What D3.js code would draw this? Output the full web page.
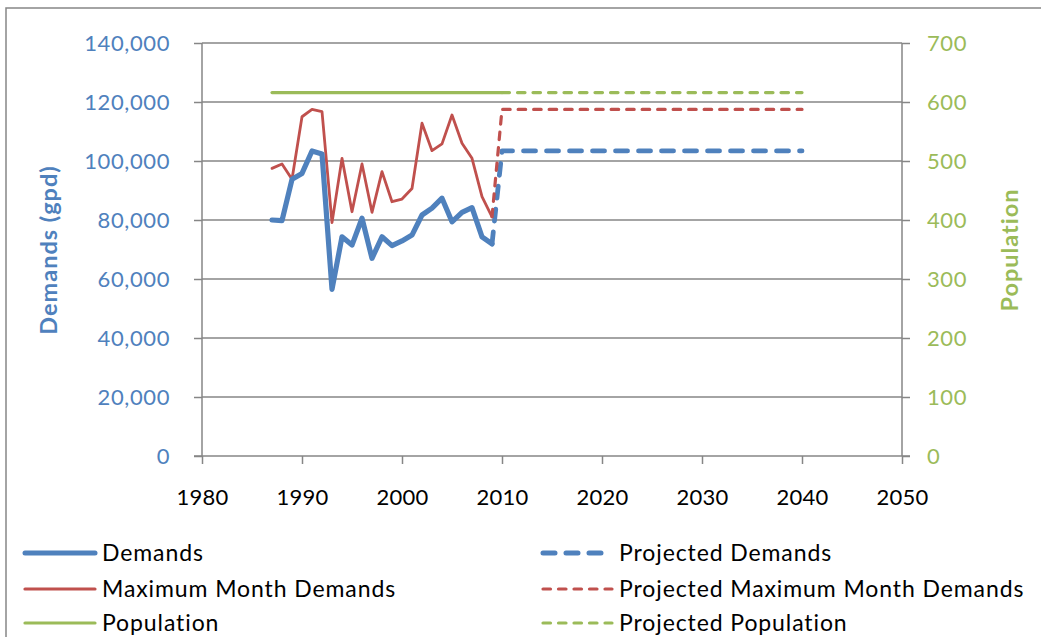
<!DOCTYPE html>
<html><head><meta charset="utf-8">
<script src="https://cdn.jsdelivr.net/npm/d3@7/dist/d3.min.js"></script>
<style>
body{margin:0;background:#fff;}
svg{display:block;font-family:Lato,"Open Sans",sans-serif;}
</style></head>
<body>
<svg id="c" width="1041" height="637"></svg>
<script>
const years = [1987,1988,1989,1990,1991,1992,1993,1994,1995,1996,1997,1998,1999,2000,2001,2002,2003,2004,2005,2006,2007,2008,2009];
const demands = [80000,79800,93800,95800,103400,102400,56500,74300,71500,80600,67000,74300,71300,72900,74900,81700,84000,87400,79400,82600,84200,74300,71900];
const maxMonth = [97500,99000,93800,115000,117500,116700,79100,100900,82800,99000,82600,96400,86200,87100,90700,112800,103500,105800,115600,106000,100900,87900,81100];
const popYears = [1987,2010];
const population = [616,616];
const projYears = [2009,2010,2040];
const projDemands = [71900,103400,103400];
const projMaxMonth = [81100,117500,117500];
const projPopYears = [2010,2040];
const projPopulation = [616,616];
const xTicks = [1980,1990,2000,2010,2020,2030,2040,2050];
const yLeftTicks = [0,20000,40000,60000,80000,100000,120000,140000];
const yRightTicks = [0,100,200,300,400,500,600,700];

const blue="#4F81BD", red="#C0504D", green="#9BBB59", axisCol="#868686";
const svg=d3.select("#c");

// outer border
svg.append("path").attr("d","M6,640 V8 H1045").attr("fill","none").attr("stroke",axisCol).attr("stroke-width",1.5);

const x=d3.scaleLinear().domain([1980,2050]).range([202,902]);
const yL=d3.scaleLinear().domain([0,140000]).range([456,43]);
const yR=d3.scaleLinear().domain([0,700]).range([456,43]);

// gridlines
svg.append("g").selectAll("line").data(yLeftTicks.slice(1)).join("line")
  .attr("x1",x(1980)).attr("x2",x(2050)).attr("y1",d=>yL(d)).attr("y2",d=>yL(d))
  .attr("stroke",axisCol).attr("stroke-width",1.5);

// left axis
const gL=svg.append("g").attr("transform",`translate(${x(1980)},0)`)
  .call(d3.axisLeft(yL).tickValues(yLeftTicks).tickSize(8).tickPadding(24).tickFormat(d3.format(",")));
// right axis
const gR=svg.append("g").attr("transform",`translate(${x(2050)},0)`)
  .call(d3.axisRight(yR).tickValues(yRightTicks).tickSize(8).tickPadding(17));
// bottom axis
const gB=svg.append("g").attr("transform",`translate(0,${yL(0)})`)
  .call(d3.axisBottom(x).tickValues(xTicks).tickSize(8).tickPadding(25).tickFormat(d3.format("d")));

[gL,gR,gB].forEach(g=>{
  g.select(".domain").attr("stroke",axisCol).attr("stroke-width",1.5);
  g.selectAll(".tick line").attr("stroke",axisCol).attr("stroke-width",1.5);
  g.selectAll("text").attr("font-size",22).attr("font-family","Lato").attr("letter-spacing",0.6);
});
gB.select(".domain").attr("d",`M${x(1980)-8},0H${x(2050)+8}`);
gL.select(".domain").attr("d","M0,"+yL(140000)+"V"+yL(0));
gR.select(".domain").attr("d","M0,"+yR(700)+"V"+yR(0));
gL.selectAll("text").attr("fill",blue);
gR.selectAll("text").attr("fill",green);
gB.selectAll("text").attr("fill","#000").attr("letter-spacing",0.2);

// titles
svg.append("text").attr("transform","translate(57,250) rotate(-90)").attr("text-anchor","middle")
  .attr("fill",blue).attr("font-weight","bold").attr("font-size",23.5).attr("letter-spacing",1).text("Demands (gpd)");
svg.append("text").attr("transform","translate(1018,250) rotate(-90)").attr("text-anchor","middle")
  .attr("fill",green).attr("font-weight","bold").attr("font-size",23.5).attr("letter-spacing",1).text("Population");

const lineL=d3.line().x(d=>x(d[0])).y(d=>yL(d[1]));
const lineR=d3.line().x(d=>x(d[0])).y(d=>yR(d[1]));
const zip=(a,b)=>a.map((v,i)=>[v,b[i]]);

const series=[
  {name:"Projected Demands", d:lineL(zip(projYears,projDemands)), c:blue, w:4.8, dash:"12,11"},
  {name:"Projected Maximum Month Demands", d:lineL(zip(projYears,projMaxMonth)), c:red, w:3.2, dash:"7.5,8"},
  {name:"Projected Population", d:lineR(zip(projPopYears,projPopulation)), c:green, w:3.2, dash:"7.5,8"},
  {name:"Population", d:lineR(zip(popYears,population)), c:green, w:3.2, dash:null},
  {name:"Maximum Month Demands", d:lineL(zip(years,maxMonth)), c:red, w:2.8, dash:null},
  {name:"Demands", d:lineL(zip(years,demands)), c:blue, w:5.2, dash:null},
];
series.forEach(s=>{
  svg.append("path").attr("d",s.d).attr("fill","none").attr("stroke",s.c).attr("stroke-width",s.w)
    .attr("stroke-linecap","round").attr("stroke-linejoin","round").attr("stroke-dasharray",s.dash);
});

// legend
const legend=[
  {name:"Demands",c:blue,w:5,dash:null,col:0,row:0},
  {name:"Maximum Month Demands",c:red,w:3.2,dash:null,col:0,row:1},
  {name:"Population",c:green,w:3.2,dash:null,col:0,row:2},
  {name:"Projected Demands",c:blue,w:5,dash:"12,11",col:1,row:0},
  {name:"Projected Maximum Month Demands",c:red,w:3.2,dash:"7.5,8",col:1,row:1},
  {name:"Projected Population",c:green,w:3.2,dash:"7.5,8",col:1,row:2},
];
const lx=[[25,95,102],[543,612,619]], ly=[553,589,623];
const lg=svg.append("g");
legend.forEach(l=>{
  const [a,b,t]=lx[l.col], yy=ly[l.row];
  lg.append("line").attr("x1",a).attr("x2",b).attr("y1",yy).attr("y2",yy).attr("stroke",l.c)
    .attr("stroke-width",l.w).attr("stroke-linecap","round").attr("stroke-dasharray",l.dash);
  lg.append("text").attr("x",t).attr("y",yy).attr("dy","0.35em").attr("font-size",23).attr("letter-spacing",0.9)
    .attr("fill","#000").text(l.name);
});
</script>
</body></html>
